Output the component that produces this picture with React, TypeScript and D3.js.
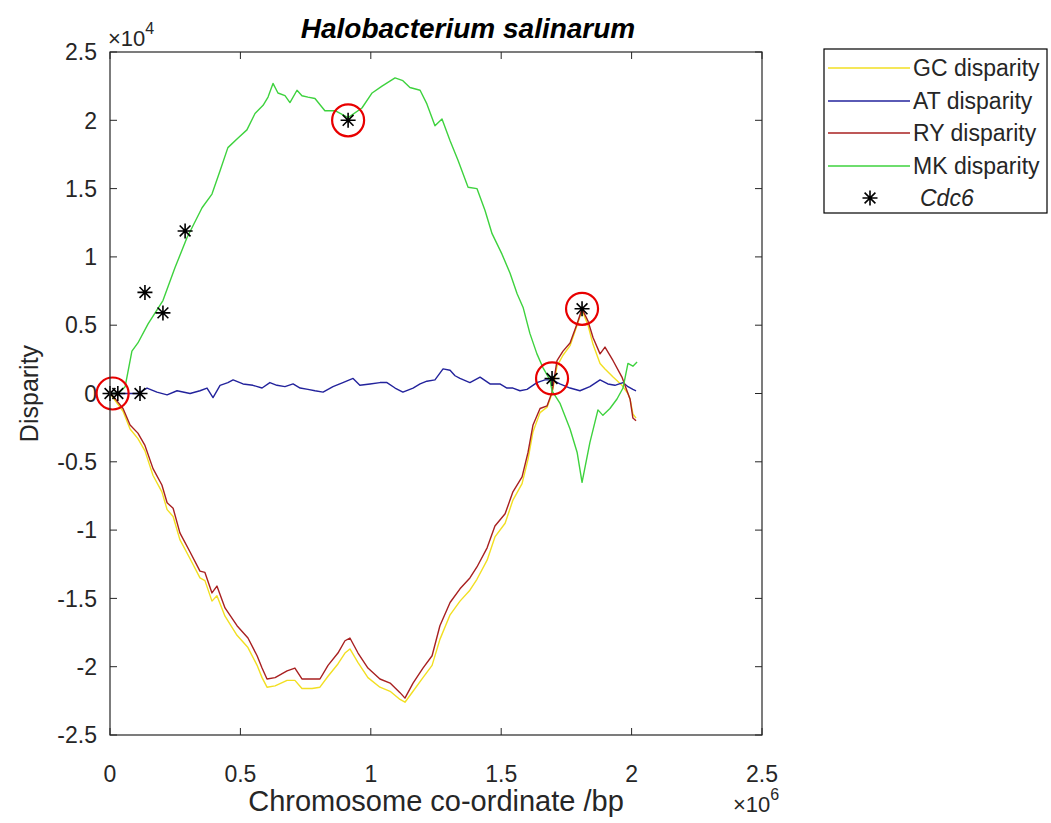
import React from 'react';
import * as d3 from 'd3';

// x values in units of 1e6 bp, y values in units of 1e4
const xTickValues = [0, 0.5, 1, 1.5, 2, 2.5];
const yTickValues = [2.5, 2, 1.5, 1, 0.5, 0, -0.5, -1, -1.5, -2, -2.5];

const mkX = [0, 0.031, 0.058, 0.084, 0.107, 0.146, 0.203, 0.249, 0.295, 0.353, 0.391, 0.422, 0.452, 0.491, 0.525, 0.556, 0.587, 0.606, 0.625, 0.644, 0.671, 0.69, 0.717, 0.736, 0.759, 0.786, 0.824, 0.863, 0.913, 0.966, 1.005, 1.043, 1.093, 1.123, 1.15, 1.189, 1.215, 1.246, 1.273, 1.304, 1.334, 1.373, 1.407, 1.438, 1.465, 1.503, 1.534, 1.561, 1.584, 1.61, 1.637, 1.66, 1.687, 1.695, 1.725, 1.764, 1.791, 1.81, 1.84, 1.871, 1.89, 1.917, 1.944, 1.967, 1.986, 2.005, 2.021];
const mkY = [0, 0, 0.05, 0.31, 0.37, 0.51, 0.68, 0.92, 1.14, 1.36, 1.46, 1.63, 1.8, 1.87, 1.93, 2.05, 2.11, 2.17, 2.27, 2.2, 2.18, 2.13, 2.22, 2.18, 2.17, 2.16, 2.07, 2.07, 2.02, 2.09, 2.2, 2.25, 2.31, 2.29, 2.24, 2.22, 2.12, 1.96, 2.01, 1.85, 1.71, 1.51, 1.5, 1.34, 1.17, 1.02, 0.88, 0.73, 0.63, 0.44, 0.29, 0.19, 0.1, 0.02, -0.07, -0.26, -0.43, -0.65, -0.36, -0.12, -0.16, -0.11, -0.04, 0.04, 0.22, 0.2, 0.23];

const ryX = [0, 0.008, 0.05, 0.077, 0.107, 0.134, 0.165, 0.199, 0.219, 0.242, 0.268, 0.307, 0.345, 0.364, 0.391, 0.41, 0.441, 0.487, 0.529, 0.564, 0.583, 0.602, 0.633, 0.679, 0.709, 0.736, 0.775, 0.805, 0.836, 0.874, 0.901, 0.92, 0.951, 0.989, 1.035, 1.074, 1.112, 1.131, 1.162, 1.2, 1.235, 1.265, 1.304, 1.342, 1.38, 1.407, 1.446, 1.476, 1.515, 1.545, 1.58, 1.603, 1.622, 1.649, 1.676, 1.695, 1.714, 1.737, 1.764, 1.791, 1.81, 1.833, 1.852, 1.879, 1.898, 1.929, 1.963, 1.986, 1.994, 2.005, 2.017];
const ryY = [0, -0.01, -0.11, -0.23, -0.29, -0.38, -0.55, -0.67, -0.8, -0.84, -1.02, -1.16, -1.3, -1.31, -1.46, -1.41, -1.57, -1.7, -1.79, -1.92, -2.01, -2.09, -2.08, -2.03, -2.01, -2.09, -2.09, -2.09, -1.99, -1.9, -1.81, -1.79, -1.9, -2.01, -2.09, -2.12, -2.19, -2.23, -2.12, -2.01, -1.92, -1.7, -1.53, -1.43, -1.35, -1.27, -1.13, -0.97, -0.88, -0.72, -0.61, -0.43, -0.23, -0.11, -0.09, 0.01, 0.24, 0.31, 0.37, 0.51, 0.62, 0.53, 0.41, 0.29, 0.34, 0.24, 0.12, 0, -0.04, -0.18, -0.2];

const gcX = [0, 0.008, 0.05, 0.077, 0.107, 0.134, 0.165, 0.199, 0.219, 0.242, 0.268, 0.307, 0.345, 0.364, 0.391, 0.41, 0.441, 0.487, 0.529, 0.564, 0.583, 0.602, 0.633, 0.679, 0.709, 0.736, 0.775, 0.805, 0.836, 0.874, 0.901, 0.92, 0.951, 0.989, 1.035, 1.074, 1.112, 1.131, 1.162, 1.2, 1.235, 1.265, 1.304, 1.342, 1.38, 1.407, 1.446, 1.476, 1.515, 1.545, 1.58, 1.603, 1.622, 1.649, 1.676, 1.695, 1.714, 1.737, 1.764, 1.791, 1.81, 1.833, 1.852, 1.879, 1.898, 1.929, 1.963, 1.986, 1.994, 2.005, 2.017];
const gcY = [0, -0.02, -0.13, -0.26, -0.33, -0.42, -0.6, -0.72, -0.85, -0.9, -1.07, -1.21, -1.35, -1.37, -1.52, -1.48, -1.63, -1.77, -1.86, -1.99, -2.08, -2.15, -2.14, -2.1, -2.1, -2.16, -2.16, -2.15, -2.07, -1.98, -1.9, -1.87, -1.97, -2.08, -2.15, -2.18, -2.24, -2.26, -2.18, -2.08, -1.99, -1.8, -1.62, -1.52, -1.44, -1.36, -1.22, -1.05, -0.95, -0.78, -0.66, -0.48, -0.28, -0.14, -0.1, 0, 0.2, 0.28, 0.35, 0.5, 0.61, 0.5, 0.36, 0.22, 0.18, 0.12, 0.06, 0, -0.04, -0.15, -0.18];

const atX = [0, 0.031, 0.065, 0.107, 0.142, 0.18, 0.219, 0.257, 0.307, 0.345, 0.372, 0.395, 0.422, 0.452, 0.472, 0.51, 0.548, 0.583, 0.613, 0.64, 0.671, 0.702, 0.729, 0.759, 0.786, 0.817, 0.855, 0.893, 0.932, 0.958, 0.997, 1.035, 1.062, 1.093, 1.123, 1.162, 1.189, 1.215, 1.246, 1.277, 1.304, 1.323, 1.342, 1.38, 1.419, 1.457, 1.495, 1.522, 1.545, 1.572, 1.599, 1.637, 1.668, 1.695, 1.725, 1.764, 1.802, 1.84, 1.879, 1.909, 1.936, 1.967, 1.986, 2.005, 2.017];
const atY = [0, 0, 0, 0, 0.04, 0.01, -0.01, 0.02, 0, 0.02, 0.04, -0.03, 0.06, 0.08, 0.1, 0.07, 0.06, 0.04, 0.08, 0.06, 0.05, 0.07, 0.04, 0.03, 0.02, 0.01, 0.05, 0.08, 0.11, 0.06, 0.07, 0.08, 0.08, 0.04, 0.01, 0.04, 0.07, 0.09, 0.1, 0.18, 0.17, 0.13, 0.11, 0.08, 0.12, 0.07, 0.07, 0.04, 0.04, 0.02, 0.03, 0.08, 0.1, 0.1, 0.07, 0.04, 0.02, 0.05, 0.1, 0.07, 0.06, 0.08, 0.05, 0.03, 0.02];

const cdc6X = [0, 0.03, 0.115, 0.134, 0.203, 0.288, 0.913, 1.695, 1.81];
const cdc6Y = [0, 0, 0, 0.74, 0.59, 1.19, 2.0, 0.11, 0.62];

const circleX = [0.01, 0.913, 1.695, 1.81];
const circleY = [0, 2.0, 0.11, 0.62];

const seriesNames = ['GC disparity', 'AT disparity', 'RY disparity', 'MK disparity'];
const seriesColors = ['#f2df22', '#23239c', '#a82020', '#3ed23e'];

const X_UNIT = 1e6;
const Y_UNIT = 1e4;

const W = 1051;
const H = 823;
const left = 110;
const right = 762;
const top = 52;
const bottom = 735;

const textColor = '#262626';
const font = "'Liberation Sans', Arial, Helvetica, sans-serif";

function starPath(cx: number, cy: number, r: number) {
  const d = r * 0.72;
  return `M${cx - r},${cy}L${cx + r},${cy}M${cx},${cy - r}L${cx},${cy + r}M${cx - d},${cy - d}L${cx + d},${cy + d}M${cx - d},${cy + d}L${cx + d},${cy - d}`;
}

export default function App() {
  const x = d3.scaleLinear().domain([0, 2.5 * X_UNIT]).range([left, right]);
  const y = d3.scaleLinear().domain([-2.5 * Y_UNIT, 2.5 * Y_UNIT]).range([bottom, top]);

  const toPts = (xs: number[], ys: number[]) => xs.map((v, i) => [v * X_UNIT, ys[i] * Y_UNIT] as [number, number]);
  const series = [toPts(gcX, gcY), toPts(atX, atY), toPts(ryX, ryY), toPts(mkX, mkY)];
  const line = d3.line<[number, number]>().x(d => x(d[0])).y(d => y(d[1]));
  const stars = toPts(cdc6X, cdc6Y);
  const circles = toPts(circleX, circleY);

  const tickLen = 7;
  const legendRows = [68, 101, 133, 166, 198];

  return (
    <svg width={W} height={H} style={{ position: 'absolute', left: 0, top: 0, background: '#fff' }} fontFamily={font}>
      <rect x={0} y={0} width={W} height={H} fill="#fff" />
      {xTickValues.map(t => (
        <g key={'xt' + t}>
          <line x1={x(t * X_UNIT)} x2={x(t * X_UNIT)} y1={bottom} y2={bottom - tickLen} stroke={textColor} />
          <line x1={x(t * X_UNIT)} x2={x(t * X_UNIT)} y1={top} y2={top + tickLen} stroke={textColor} />
          <text x={x(t * X_UNIT)} y={782} textAnchor="middle" fontSize={23} fill={textColor}>{String(t)}</text>
        </g>
      ))}
      {yTickValues.map(t => (
        <g key={'yt' + t}>
          <line x1={left} x2={left + tickLen} y1={y(t * Y_UNIT)} y2={y(t * Y_UNIT)} stroke={textColor} />
          <line x1={right} x2={right - tickLen} y1={y(t * Y_UNIT)} y2={y(t * Y_UNIT)} stroke={textColor} />
          <text x={97} y={y(t * Y_UNIT)} dy="0.36em" textAnchor="end" fontSize={23} fill={textColor}>{String(t)}</text>
        </g>
      ))}
      {series.map((s, i) => (
        <path key={'s' + i} d={line(s) || ''} fill="none" stroke={seriesColors[i]} strokeWidth={1.4} strokeLinejoin="round" />
      ))}
      {stars.map((p, i) => (
        <path key={'st' + i} d={starPath(x(p[0]), y(p[1]), 7.5)} stroke="#000" strokeWidth={1.6} fill="none" />
      ))}
      {circles.map((p, i) => (
        <circle key={'c' + i} cx={x(p[0])} cy={y(p[1])} r={16} fill="none" stroke="#e80000" strokeWidth={2.2} />
      ))}
      <rect x={left} y={top} width={right - left} height={bottom - top} fill="none" stroke={textColor} strokeWidth={1.2} />
      <text x={108} y={46} fontSize={22} fill={textColor}>×10<tspan dy={-12} fontSize={16}>4</tspan></text>
      <text x={733} y={812} fontSize={22} fill={textColor}>×10<tspan dy={-12} fontSize={16}>6</tspan></text>
      <text x={(left + right) / 2} y={811} textAnchor="middle" fontSize={29} fill={textColor}>Chromosome co-ordinate /bp</text>
      <text transform={`translate(38,${(top + bottom) / 2}) rotate(-90)`} textAnchor="middle" fontSize={25} fill={textColor}>Disparity</text>
      <text x={468} y={38} textAnchor="middle" fontSize={28} fontWeight="bold" fontStyle="italic" fill="#000">Halobacterium salinarum</text>
      <rect x={824} y={49} width={223} height={164} fill="#fff" stroke="#000" strokeWidth={1.2} />
      {seriesNames.map((n, i) => (
        <g key={'lg' + i}>
          <line x1={828} x2={910} y1={legendRows[i]} y2={legendRows[i]} stroke={seriesColors[i]} strokeWidth={1.4} />
          <text x={913} y={legendRows[i]} dy="0.36em" fontSize={23} fill={textColor}>{n}</text>
        </g>
      ))}
      <path d={starPath(870, legendRows[4], 7.5)} stroke="#000" strokeWidth={1.6} fill="none" />
      <text x={920} y={legendRows[4]} dy="0.36em" fontSize={23} fontStyle="italic" fill={textColor}>Cdc6</text>
    </svg>
  );
}
